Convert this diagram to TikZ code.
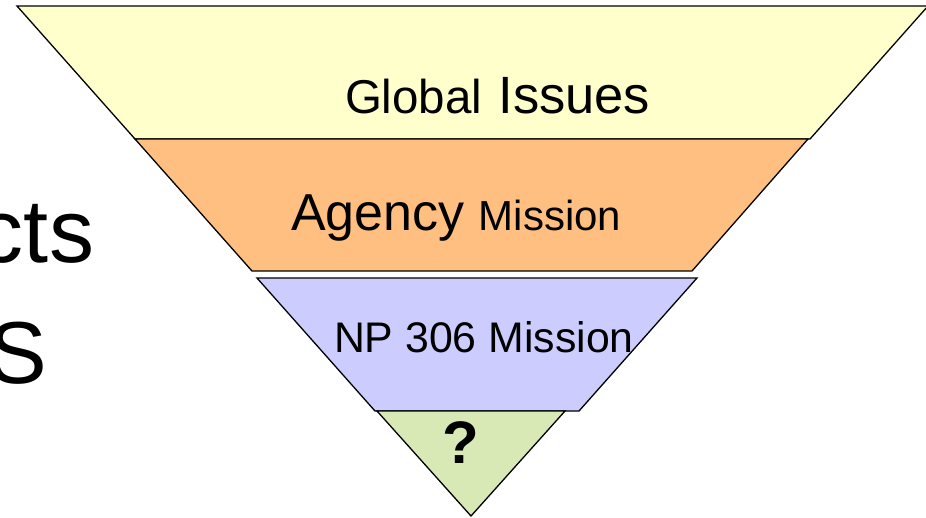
\documentclass[tikz,border=0pt]{standalone}
\usepackage{fontspec}
\setmainfont{Liberation Sans}
\definecolor{cyellow}{RGB}{255,255,204}
\definecolor{corange}{RGB}{255,191,128}
\definecolor{cpurple}{RGB}{204,204,255}
\definecolor{cgreen}{RGB}{217,233,182}
\tikzset{
  layer/.style={draw=black, line width=1.3pt, line join=miter},
  lbl/.style={inner sep=0pt, outer sep=0pt, text=black},
}
\newcommand{\fsz}[1]{\fontsize{#1}{#1}\selectfont}
\begin{document}
\begin{tikzpicture}[x=1pt,y=-1pt]
\useasboundingbox (0,0) rectangle (926,517);
\clip (0,0) rectangle (926,517);
\fill[white] (0,0) rectangle (926,517);
% layers
\filldraw[layer, fill=cyellow] (17,6) -- (928,6) -- (810,139) -- (135,139) -- cycle;
\filldraw[layer, fill=corange] (135,139) -- (808,139) -- (692,271) -- (252,271) -- cycle;
\filldraw[layer, fill=cpurple] (257,278) -- (697,278) -- (579,411) -- (375,411) -- cycle;
\filldraw[layer, fill=cgreen] (377,411) -- (565,411) -- (471,516) -- cycle;
% labels
\node[lbl, anchor=base west] (global) at (345,113) {\fsz{47.5}Global\hspace{3pt} \fsz{52.5}Issues};
\node[lbl, anchor=base west] (agency) at (291,230) {\fsz{52}Agency \fsz{42}Mission};
\node[lbl, anchor=base west] (np) at (334,352) {\fsz{42.8}NP 306 Mission};
\node[lbl, anchor=base] (q) at (461,463) {\fsz{60}\bfseries ?};
% cut-off slide text on the left
\node[lbl, anchor=base east] (cts) at (94,262) {\fsz{90}cts};
\node[lbl, anchor=base east] (s) at (47,383) {\fsz{88}S};
\end{tikzpicture}
\end{document}
